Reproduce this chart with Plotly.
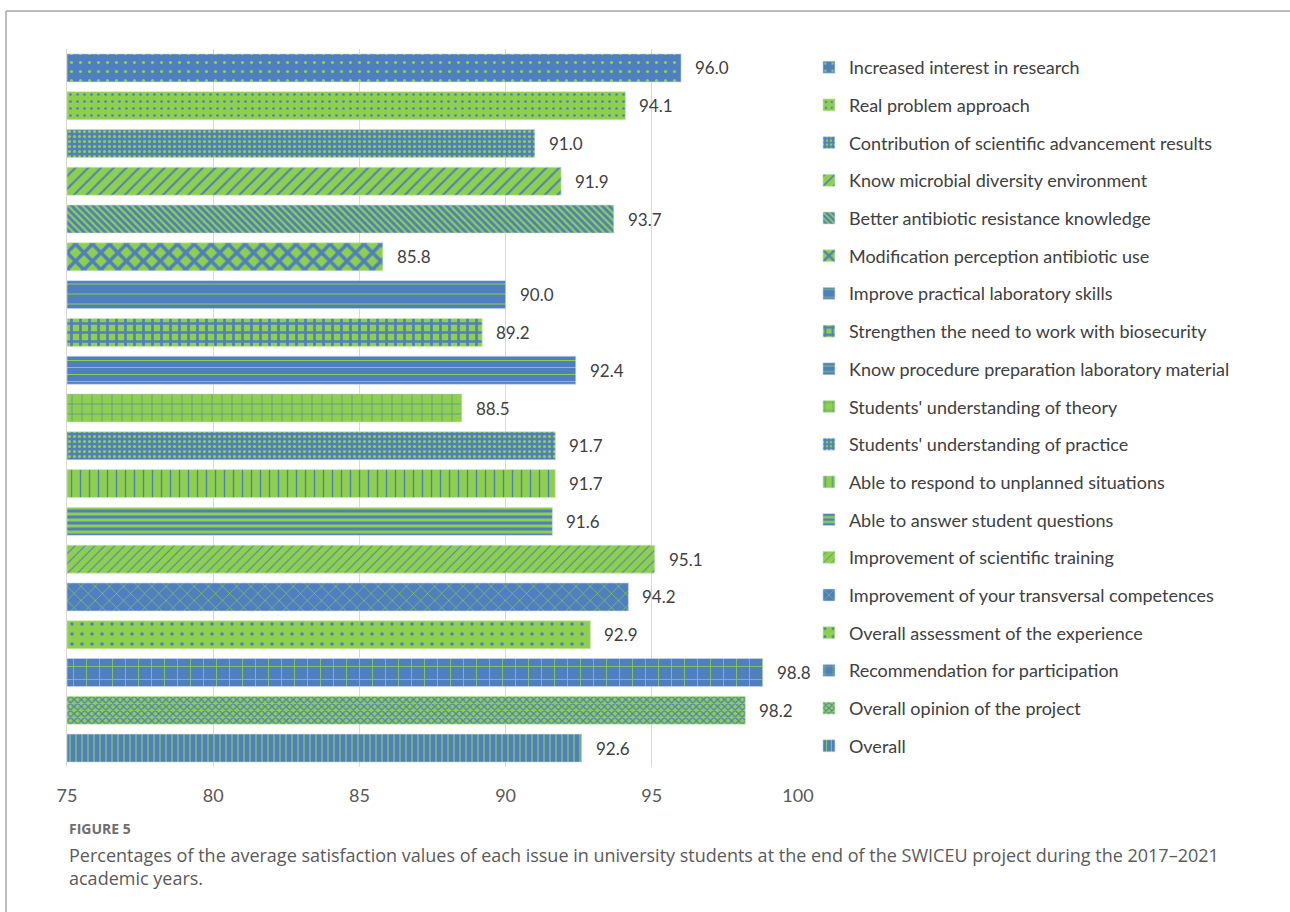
import plotly.graph_objects as go

categories = [
    "Increased interest in research",
    "Real problem approach",
    "Contribution of scientific advancement results",
    "Know microbial diversity environment",
    "Better antibiotic resistance knowledge",
    "Modification perception antibiotic use",
    "Improve practical laboratory skills",
    "Strengthen the need to work with biosecurity",
    "Know procedure preparation laboratory material",
    "Students' understanding of theory",
    "Students' understanding of practice",
    "Able to respond to unplanned situations",
    "Able to answer student questions",
    "Improvement of scientific training",
    "Improvement of your transversal competences",
    "Overall assessment of the experience",
    "Recommendation for participation",
    "Overall opinion of the project",
    "Overall",
]
values = [96.0, 94.1, 91.0, 91.9, 93.7, 85.8, 90.0, 89.2, 92.4, 88.5,
          91.7, 91.7, 91.6, 95.1, 94.2, 92.9, 98.8, 98.2, 92.6]
base_colors = ["blue", "green", "blue", "green", "blue", "green", "blue", "green", "blue", "green",
               "blue", "green", "blue", "green", "blue", "green", "blue", "green", "blue"]
shapes_pat = [".", ".", ".", "/", "\\", "x", "-", "+", "-", "+",
              ".", "|", "-", "/", "x", ".", "+", "x", "|"]
pat_size = [9, 7, 5, 9, 5, 12, 10, 9, 7, 10, 5, 9, 6, 7, 10, 10, 13, 5, 6]
pat_solid = [0.1, 0.12, 0.3, 0.22, 0.45, 0.5, 0.1, 0.5, 0.15, 0.12, 0.3, 0.15, 0.5, 0.15, 0.12, 0.1, 0.12, 0.45, 0.2]

BLUE = "#4F7FBE"
GREEN = "#8ED04D"
col = {"blue": BLUE, "green": GREEN}
other = {"blue": GREEN, "green": BLUE}

fig = go.Figure()
for i, (c, v) in enumerate(zip(categories, values)):
    fig.add_trace(go.Bar(
        x=[v - 75], base=75, y=[i], orientation="h", name=c, legendgroup=c,
        marker=dict(color=col[base_colors[i]],
                    line=dict(width=0.6, color="#C9D9EE" if base_colors[i] == "blue" else "#CDEBB0"),
                    pattern=dict(shape=shapes_pat[i], fgcolor=other[base_colors[i]],
                                 bgcolor=col[base_colors[i]], size=pat_size[i],
                                 solidity=pat_solid[i], fillmode="replace")),
        hoverinfo="skip",
    ))
    fig.add_annotation(x=v, y=i, xref="x", yref="y", text=f"{v:.1f}", showarrow=False,
                       xanchor="left", xshift=12, font=dict(family="Lato", size=17, color="#404040"))

fig.update_layout(
    width=1290, height=912, paper_bgcolor="white", plot_bgcolor="white",
    margin=dict(l=67, r=492, t=49, b=145),
    barmode="overlay", bargap=0.26, showlegend=True,
    xaxis=dict(range=[75, 100], tickvals=[75, 80, 85, 90, 95, 100], showgrid=True,
               gridcolor="#D9D9D9", gridwidth=1.3, zeroline=False, showline=False,
               ticks="", ticklabelstandoff=16,
               tickfont=dict(family="Lato", size=18, color="#595959")),
    yaxis=dict(range=[18.5, -0.5], showticklabels=False, showgrid=False, zeroline=False,
               showline=True, linecolor="#D9D9D9", linewidth=1.3),
    legend=dict(x=1.015, xanchor="left", y=1.0, yanchor="top", traceorder="grouped",
                tracegroupgap=11.3, font=dict(family="Lato", size=18, color="#404040"),
                itemclick=False, itemdoubleclick=False, bgcolor="rgba(0,0,0,0)"),
    font=dict(family="Lato"),
)

# figure frame
fig.add_shape(type="line", xref="paper", yref="paper", x0=-0.0834, x1=1.68, y0=1.0529, y1=1.0529,
              line=dict(color="#A6A6A6", width=1.5))
fig.add_shape(type="line", xref="paper", yref="paper", x0=-0.0834, x1=-0.0834, y0=1.0529, y1=-0.21,
              line=dict(color="#A6A6A6", width=1.5))

fig.add_annotation(xref="paper", yref="paper", x=0, y=(767 - 828) / 718, xanchor="left", yanchor="middle",
                   text="<b>FIGURE 5</b>", showarrow=False,
                   font=dict(family="Open Sans", size=14, color="#6E6E6E"))
fig.add_annotation(xref="paper", yref="paper", x=0, y=(767 - 841) / 718, xanchor="left", yanchor="top",
                   align="left", showarrow=False,
                   text="Percentages of the average satisfaction values of each issue in university students at the end of the SWICEU project during the 2017\u20132021<br>academic years.",
                   font=dict(family="Open Sans", size=18, color="#5A5A5A"))

fig.write_html("out.html")
